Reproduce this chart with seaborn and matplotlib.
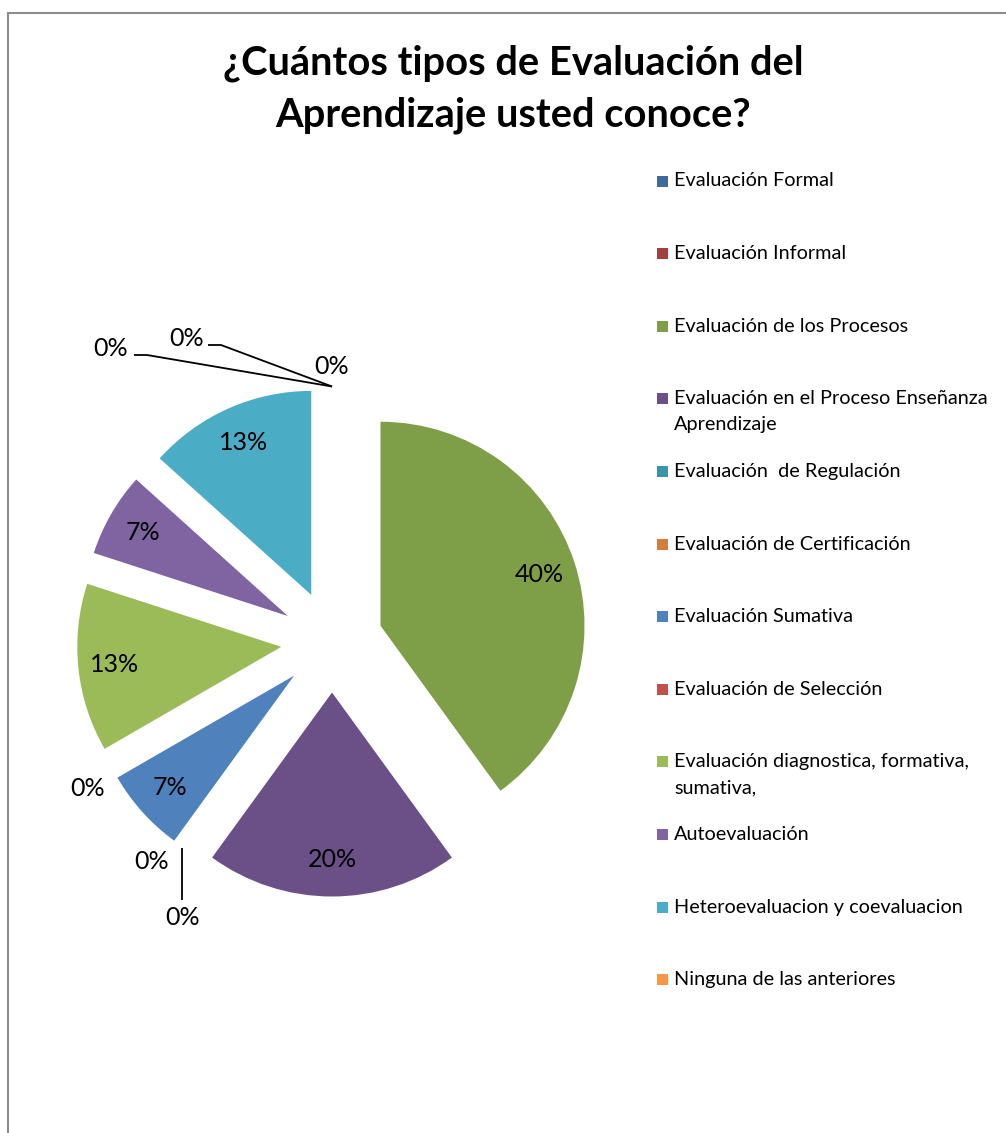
import numpy as np
import matplotlib
matplotlib.use("Agg")
import matplotlib.pyplot as plt
from matplotlib.patches import Rectangle
import seaborn as sns

# ----------------------------------------------------------
# Data
# ----------------------------------------------------------
title_lines = ["¿Cuántos tipos de Evaluación del", "Aprendizaje usted conoce?"]

categories = [
    "Evaluación Formal",
    "Evaluación Informal",
    "Evaluación de los Procesos",
    "Evaluación en el Proceso Enseñanza\nAprendizaje",
    "Evaluación  de Regulación",
    "Evaluación de Certificación",
    "Evaluación Sumativa",
    "Evaluación de Selección",
    "Evaluación diagnostica, formativa,\nsumativa,",
    "Autoevaluación",
    "Heteroevaluacion y coevaluacion",
    "Ninguna de las anteriores",
]
counts = [0, 0, 6, 3, 0, 0, 1, 0, 2, 1, 2, 0]
colors = ["#3E6A9E", "#A33F3C", "#7F9E48", "#6A5087", "#3A93A8", "#D27D3A",
          "#4F81BD", "#C0504D", "#9BBB59", "#8064A2", "#4BACC6", "#F79646"]

# ----------------------------------------------------------
# Layout (pixels)
# ----------------------------------------------------------
W, H = 1006, 1133
DPI = 100
cx, cy = 332, H - 641.5     # pie centre in pixels (from bottom)
R = 204                     # pie radius in pixels

# placement of the "0%" labels: (dx, dy) of text, leader line points, in px
zero_label_style = {
    0: ((-221, 38), [(0, 0), (-185, 31.5), (-198, 31.5)]),
    1: ((-145, 48), [(0, 0), (-111, 41.5), (-124, 41.5)]),
    4: ((-31, -14), None),
    5: ((0, -70), [(0, 0), (0, -52)]),
    7: ((-24, -19), None),
    11: ((0, 20), None),
}

sns.set_theme(style="white")
plt.rcParams["font.family"] = ["Lato", "DejaVu Sans"]
plt.rcParams["text.color"] = "black"

fig = plt.figure(figsize=(W / DPI, H / DPI), dpi=DPI)
fig.patch.set_facecolor("white")

# full-figure axes, 1 data unit = R pixels, pie centre at (0, 0)
ax = fig.add_axes([0, 0, 1, 1])

total = sum(counts)
wedges, texts, autotexts = ax.pie(
    counts,
    colors=colors,
    explode=[0.25] * len(counts),
    startangle=90,
    counterclock=False,
    autopct=lambda p: f"{p:.0f}%" if p > 0 else "",
    pctdistance=0.82,
    textprops={"fontsize": 18, "color": "black"},
    wedgeprops={"linewidth": 0},
)

ax.set_xlim(-cx / R, (W - cx) / R)
ax.set_ylim(-cy / R, (H - cy) / R)
ax.set_aspect("auto")
ax.axis("off")

# labels for the empty categories
for i, w in enumerate(wedges):
    if counts[i] != 0:
        continue
    ang = np.deg2rad(w.theta1)
    ax0 = w.center[0] + w.r * np.cos(ang)
    ay0 = w.center[1] + w.r * np.sin(ang)
    (tdx, tdy), leader = zero_label_style[i]
    ax.text(ax0 + tdx / R, ay0 + tdy / R, f"{100 * counts[i] / total:.0f}%",
            ha="center", va="center", fontsize=18, color="black")
    if leader:
        xs = [ax0 + p[0] / R for p in leader]
        ys = [ay0 + p[1] / R for p in leader]
        ax.plot(xs, ys, color="black", lw=1.3, solid_capstyle="butt")

# title
fig.text(513 / W, 1 - 63 / H, title_lines[0], ha="center", va="center",
         fontsize=28.7, fontweight="bold", color="black")
fig.text(513 / W, 1 - 115 / H, title_lines[1], ha="center", va="center",
         fontsize=28.7, fontweight="bold", color="black")

# legend
for i, (name, col) in enumerate(zip(categories, colors)):
    y = 181 + i * 72.6
    fig.patches.append(Rectangle((657 / W, 1 - (y + 5.5) / H), 11 / W, 11 / H,
                                 transform=fig.transFigure, facecolor=col,
                                 edgecolor="none"))
    for j, line in enumerate(name.split("\n")):
        fig.text(674 / W, 1 - (y + j * 26) / H, line, ha="left", va="center",
                 fontsize=14.3, color="black")

# chart area border (cut off at right and bottom)
fig.patches.append(Rectangle((7.5 / W, -0.1), 1.2, 1.1 - 12.5 / H,
                             transform=fig.transFigure, facecolor="none",
                             edgecolor="#8c8c8c", lw=1.5))

fig.savefig("out.png", dpi=DPI)
